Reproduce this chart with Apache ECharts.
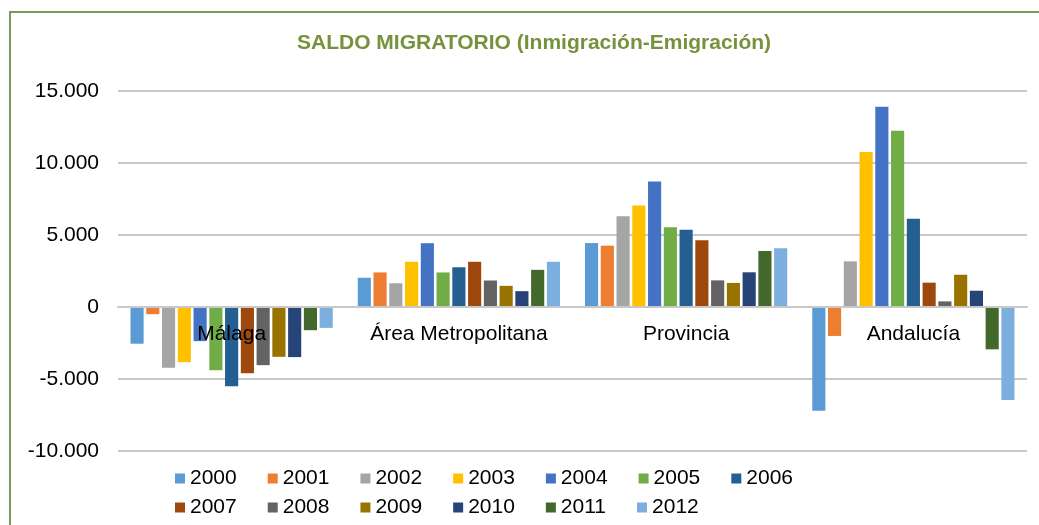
<!DOCTYPE html>
<html>
<head>
<meta charset="utf-8">
<title>Saldo migratorio</title>
<script src="https://cdn.jsdelivr.net/npm/echarts@6/dist/echarts.min.js"></script>
<style>
  html, body { margin: 0; padding: 0; background: #fff; }
  #chart { width: 1039px; height: 525px; }
</style>
</head>
<body>
<div id="chart"></div>
<script>
// categorias del eje X
const zonas = ["Málaga", "Área Metropolitana", "Provincia", "Andalucía"];
const years = ["2000", "2001", "2002", "2003", "2004", "2005", "2006",
               "2007", "2008", "2009", "2010", "2011", "2012"];
const colores = ["#5B9BD5", "#ED7D31", "#A5A5A5", "#FFC000", "#4472C4", "#70AD47", "#255E91",
                 "#9E480E", "#636363", "#997300", "#264478", "#43682B", "#7CAFDD"];

// saldo por año: [Málaga, Área Metropolitana, Provincia, Andalucía]
const s2000 = [-2550, 2030, 4440, -7200];
const s2001 = [-500, 2400, 4260, -2010];
const s2002 = [-4220, 1650, 6300, 3170];
const s2003 = [-3830, 3140, 7040, 10760];
const s2004 = [-2370, 4430, 8710, 13910];
const s2005 = [-4390, 2400, 5530, 12240];
const s2006 = [-5500, 2760, 5370, 6130];
const s2007 = [-4600, 3140, 4630, 1690];
const s2008 = [-4040, 1840, 1850, 390];
const s2009 = [-3460, 1470, 1670, 2240];
const s2010 = [-3480, 1100, 2410, 1130];
const s2011 = [-1610, 2580, 3890, -2940];
const s2012 = [-1450, 3140, 4080, -6460];
const valores = [s2000, s2001, s2002, s2003, s2004, s2005, s2006,
                 s2007, s2008, s2009, s2010, s2011, s2012];

const yTicks = { min: -10000, max: 15000, step: 5000 };

function miles(v) {
  if (v === 0) return "0";
  const s = Math.abs(v).toString().replace(/\B(?=(\d{3})+(?!\d))/g, ".");
  return (v < 0 ? "-" : "") + s;
}

const fuente = "'Liberation Sans', Arial, sans-serif";
const chart = echarts.init(document.getElementById("chart"));

const series = years.map(function (y, i) {
  return {
    name: y,
    type: "bar",
    data: valores[i],
    barGap: "20%",
    barCategoryGap: "11%",
    itemStyle: { color: colores[i] }
  };
});

// la escala va de -10.000 a 15.000 en 360px -> el cero queda 144px sobre el borde inferior
const offsetCero = -144;

chart.setOption({
  animation: false,
  textStyle: { fontFamily: fuente },
  title: {
    text: "SALDO MIGRATORIO (Inmigración-Emigración)",
    left: 292,
    top: 28,
    textStyle: { color: "#76923C", fontSize: 21, fontWeight: "bold", fontFamily: fuente }
  },
  graphic: [{
    type: "rect",
    shape: { x: 10, y: 12, width: 1200, height: 700 },
    style: { fill: "none", stroke: "#7A9A5A", lineWidth: 2 },
    silent: true
  }],
  legend: [
    {
      data: years.slice(0, 7),
      left: 170, top: 463,
      itemWidth: 10, itemHeight: 10, itemGap: 31,
      icon: "rect",
      textStyle: { fontSize: 21, color: "#000", fontFamily: fuente }
    },
    {
      data: years.slice(7),
      left: 170, top: 492,
      itemWidth: 10, itemHeight: 10, itemGap: 31,
      icon: "rect",
      textStyle: { fontSize: 21, color: "#000", fontFamily: fuente }
    }
  ],
  grid: { left: 118, right: 12, top: 91, bottom: 74, containLabel: false },
  xAxis: {
    type: "category",
    data: zonas,
    offset: offsetCero,
    z: 10,
    axisTick: { show: false },
    axisLine: { onZero: false, lineStyle: { color: "#C8C8C8", width: 2 } },
    axisLabel: { fontSize: 21, color: "#000", margin: 17, interval: 0, hideOverlap: false, fontFamily: fuente }
  },
  yAxis: {
    type: "value",
    min: yTicks.min,
    max: yTicks.max,
    interval: yTicks.step,
    axisLine: { show: false },
    axisTick: { show: false },
    splitLine: { lineStyle: { color: "#C8C8C8", width: 2 } },
    axisLabel: { fontSize: 21, color: "#000", margin: 19, formatter: miles, fontFamily: fuente }
  },
  series: series
});
</script>
</body>
</html>
